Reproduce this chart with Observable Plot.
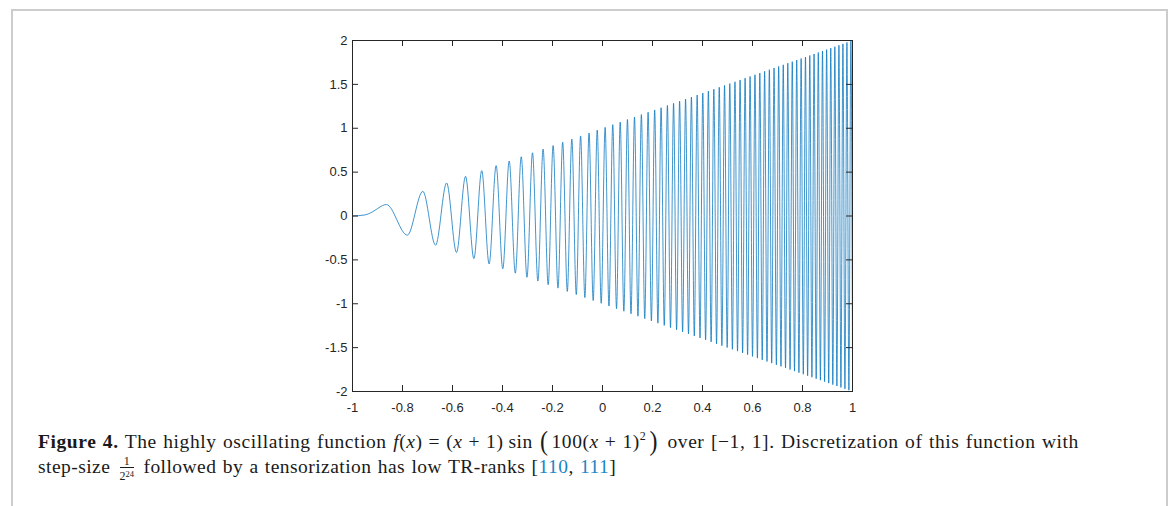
<!DOCTYPE html>
<html>
<head>
<meta charset="utf-8">
<script src="https://cdn.jsdelivr.net/npm/d3@7"></script>
<script src="https://cdn.jsdelivr.net/npm/@observablehq/plot@0.6"></script>
<style>
  html, body { margin: 0; padding: 0; background: #fff; width: 1173px; height: 506px; overflow: hidden; }
  #frame { position: absolute; left: 11px; top: 9px; width: 1153px; height: 700px;
           border: 2px solid #cccccc; border-bottom: none; }
  #chart { position: absolute; left: 0; top: 0; }
  #caption { position: absolute; left: 38px; top: 424px; font-family: "Liberation Serif", "DejaVu Serif", serif;
             font-size: 19.5px; letter-spacing: 0.45px; word-spacing: 1px; color: #1a1a1a; line-height: 25px; }
  #caption .ln { white-space: nowrap; }
  #caption .l1 { letter-spacing: 0.58px; }
  #caption i { font-style: italic; }
  .op { margin: 0 6px; }
  .fn { margin: 0 4px 0 5px; }
  .bp { font-size: 24px; display: inline-block; transform: scaleY(1.15); vertical-align: -1px; margin: 0 3px; }
  .frac { display: inline-block; vertical-align: -7px; text-align: center; font-size: 12px; line-height: 12px; margin: 0 3px; letter-spacing: 0; }
  .frac .num { display: block; border-bottom: 0.8px solid #1a1a1a; padding: 0 1px; }
  .frac .den { display: block; }
  .frac sup { font-size: 8.5px; vertical-align: 3px; }
  .cite { color: #1a86c4; }
</style>
</head>
<body>
<div id="frame"></div>
<div id="chart"></div>
<div id="caption">
  <div class="ln l1"><b>Figure 4.</b> The highly oscillating function <i>f</i>(<i>x</i>)<span class="op">=</span>(<i>x</i><span class="op">+</span>1)<span class="fn">sin</span><span class="bp">(</span>100(<i>x</i><span class="op">+</span>1)<sup style="font-size:12px">2</sup><span class="bp">)</span> over [−1, 1]. Discretization of this function with</div>
  <div class="ln">step-size <span class="frac"><span class="num">1</span><span class="den">2<sup>24</sup></span></span> followed by a tensorization has low TR-ranks [<span class="cite">110</span>, <span class="cite">111</span>]</div>
</div>
<script>
const fx = [
  -1, -0.95, -0.92, -0.9, -0.88,
  -0.8645, -0.7806, -0.7186, -0.6677, -0.6235, -0.5840, -0.5478, -0.5144, -0.4831, -0.4535,
  -0.4255, -0.3988, -0.3732, -0.3487, -0.3250, -0.3021, -0.2800, -0.2585, -0.2376, -0.2173,
  -0.1975, -0.1781, -0.1593, -0.1408, -0.1227, -0.1049, -0.0876, -0.0705, -0.0538, -0.0373,
  -0.0211, -0.0052, 0.0105, 0.0259, 0.0411, 0.0561, 0.0708, 0.0854, 0.0998, 0.1140,
  0.1280, 0.1418, 0.1555, 0.1690, 0.1824, 0.1956, 0.2087, 0.2216, 0.2344, 0.2470,
  0.2596, 0.2720, 0.2843, 0.2964, 0.3085, 0.3204, 0.3323, 0.3440, 0.3557, 0.3672,
  0.3786, 0.3900, 0.4012, 0.4124, 0.4235, 0.4345, 0.4454, 0.4562, 0.4670, 0.4776,
  0.4882, 0.4987, 0.5092, 0.5196, 0.5299, 0.5401, 0.5503, 0.5604, 0.5704, 0.5804,
  0.5903, 0.6001, 0.6099, 0.6196, 0.6293, 0.6389, 0.6485, 0.6580, 0.6674, 0.6768,
  0.6862, 0.6955, 0.7047, 0.7139, 0.7230, 0.7321, 0.7412, 0.7502, 0.7591, 0.7680,
  0.7769, 0.7857, 0.7945, 0.8032, 0.8119, 0.8205, 0.8292, 0.8377, 0.8462, 0.8547,
  0.8632, 0.8716, 0.8800, 0.8883, 0.8966, 0.9049, 0.9131, 0.9213, 0.9294, 0.9376,
  0.9457, 0.9537, 0.9617, 0.9697, 0.9777, 0.9856, 0.9935,
  1
];
const fy = [
  0, 0.0124, 0.0478, 0.0841, 0.1190,
  0.1308, -0.2182, 0.2808, -0.3320, 0.3763, -0.4159, 0.4521, -0.4855, 0.5168, -0.5464,
  0.5745, -0.6012, 0.6268, -0.6513, 0.6750, -0.6979, 0.7200, -0.7415, 0.7624, -0.7827,
  0.8025, -0.8219, 0.8407, -0.8592, 0.8773, -0.8951, 0.9124, -0.9295, 0.9462, -0.9627,
  0.9789, -0.9948, 1.0105, -1.0259, 1.0411, -1.0561, 1.0708, -1.0854, 1.0998, -1.1140,
  1.1280, -1.1418, 1.1555, -1.1690, 1.1824, -1.1956, 1.2087, -1.2216, 1.2344, -1.2470,
  1.2596, -1.2720, 1.2843, -1.2964, 1.3085, -1.3204, 1.3323, -1.3440, 1.3557, -1.3672,
  1.3786, -1.3900, 1.4012, -1.4124, 1.4235, -1.4345, 1.4454, -1.4562, 1.4670, -1.4776,
  1.4882, -1.4987, 1.5092, -1.5196, 1.5299, -1.5401, 1.5503, -1.5604, 1.5704, -1.5804,
  1.5903, -1.6001, 1.6099, -1.6196, 1.6293, -1.6389, 1.6485, -1.6580, 1.6674, -1.6768,
  1.6862, -1.6955, 1.7047, -1.7139, 1.7230, -1.7321, 1.7412, -1.7502, 1.7591, -1.7680,
  1.7769, -1.7857, 1.7945, -1.8032, 1.8119, -1.8205, 1.8292, -1.8377, 1.8462, -1.8547,
  1.8632, -1.8716, 1.8800, -1.8883, 1.8966, -1.9049, 1.9131, -1.9213, 1.9294, -1.9376,
  1.9457, -1.9537, 1.9617, -1.9697, 1.9777, -1.9856, 1.9935,
  -1.7017
];
const xTicks = [-1, -0.8, -0.6, -0.4, -0.2, 0, 0.2, 0.4, 0.6, 0.8, 1];
const xTickLabels = ["-1", "-0.8", "-0.6", "-0.4", "-0.2", "0", "0.2", "0.4", "0.6", "0.8", "1"];
const yTicks = [-2, -1.5, -1, -0.5, 0, 0.5, 1, 1.5, 2];
const yTickLabels = ["-2", "-1.5", "-1", "-0.5", "0", "0.5", "1", "1.5", "2"];

const data = fx.map((x, i) => ({x, y: fy[i]}));

const W = 1173, H = 420;
const mL = 352, mR = 321, mT = 40, mB = 29;
const innerW = W - mL - mR, innerH = H - mT - mB;
const tick = 6;
const axisColor = "#262626";

const chart = Plot.plot({
  width: W, height: H,
  marginLeft: mL, marginRight: mR, marginTop: mT, marginBottom: mB,
  style: {fontFamily: "'Liberation Sans', Arial, sans-serif", fontSize: "13px", color: axisColor, background: "transparent", overflow: "visible"},
  x: {domain: [-1, 1]},
  y: {domain: [-2, 2]},
  marks: [
    Plot.line(data, {x: "x", y: "y", curve: "monotone-x", stroke: "#0072BD", strokeWidth: 0.75}),
    Plot.frame({stroke: axisColor, strokeWidth: 1}),
    Plot.tickX(xTicks, {x: d => d, insetTop: innerH - tick, stroke: axisColor}),
    Plot.tickX(xTicks, {x: d => d, insetBottom: innerH - tick, stroke: axisColor}),
    Plot.tickY(yTicks, {y: d => d, insetRight: innerW - tick, stroke: axisColor}),
    Plot.tickY(yTicks, {y: d => d, insetLeft: innerW - tick, stroke: axisColor}),
    Plot.axisX({ticks: xTicks, tickSize: 0, tickPadding: 11, tickFormat: (d) => xTickLabels[xTicks.indexOf(d)], label: null}),
    Plot.axisY({ticks: yTicks, tickSize: 0, tickPadding: 5, tickFormat: (d) => yTickLabels[yTicks.indexOf(d)], label: null})
  ]
});
document.getElementById("chart").appendChild(chart);
</script>
</body>
</html>
